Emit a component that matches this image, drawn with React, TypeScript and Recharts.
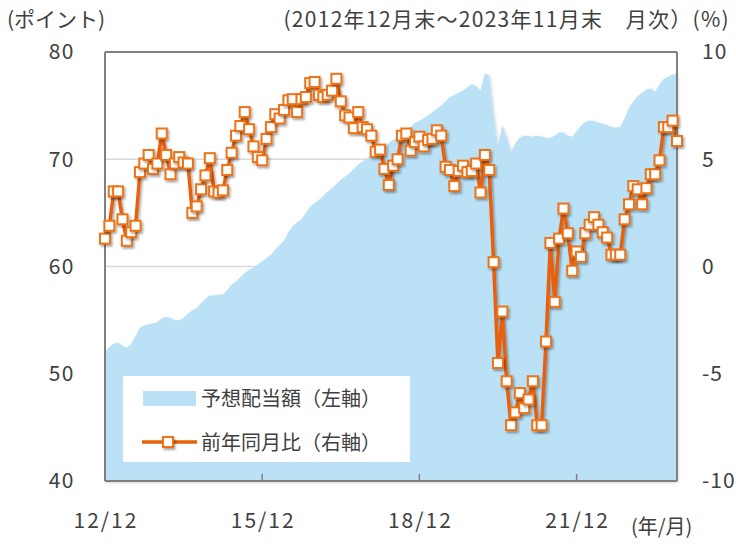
import React from "react";
import {
  ComposedChart,
  Area,
  Line,
  XAxis,
  YAxis,
  CartesianGrid,
  ReferenceLine
} from "recharts";

// 予想配当額 (ポイント, 左軸) 2012/12 - 2023/11
const dividendIndex = [
  52.0, 52.5, 52.8, 52.9, 52.6, 52.4, 52.8, 53.5, 54.3, 54.5, 54.6, 54.7,
  54.8, 55.2, 55.3, 55.2, 55.0, 55.0, 55.2, 55.6, 55.9, 56.1, 56.6, 57.0,
  57.3, 57.3, 57.4, 57.4, 57.8, 58.3, 58.6, 59.0, 59.4, 59.7, 59.9, 60.2,
  60.5, 60.8, 61.1, 61.6, 62.0, 62.4, 63.2, 63.8, 64.1, 64.4, 65.0, 65.6,
  65.9, 66.2, 66.6, 67.0, 67.3, 67.7, 68.1, 68.4, 68.7, 69.1, 69.5, 69.8,
  70.1, 70.4, 70.7, 70.9, 71.2, 71.5, 71.8, 72.1, 72.5, 72.7, 73.0, 73.4,
  73.6, 73.8, 74.1, 74.4, 74.7, 75.0, 75.4, 75.8, 76.0, 76.2, 76.4, 76.7,
  77.0, 76.8, 76.4, 78.0, 77.8, 74.0, 71.2, 73.2, 72.0, 70.7, 71.5, 72.0,
  72.2, 72.2, 72.1, 72.2, 72.1, 72.0, 72.0, 72.2, 72.5, 72.5, 72.2, 72.1,
  72.6, 73.1, 73.5, 73.6, 73.6, 73.4, 73.3, 73.2, 73.0, 72.95, 73.0, 73.8,
  74.8, 75.4, 75.9, 76.2, 76.5, 76.6, 76.3, 77.0, 77.5, 77.7, 77.9, 78.0
];

// 前年同月比 (%, 右軸)
const yoyChange = [
  1.3, 1.9, 3.5, 3.5, 2.2, 1.2, 1.6, 1.9, 4.4, 4.8, 5.2, 4.55,
  4.8, 6.2, 5.2, 4.3, 4.8, 5.1, 4.85, 4.8, 2.5, 2.8, 3.6, 4.25,
  5.05, 3.5, 3.45, 3.55, 4.5, 5.3, 6.1, 6.55, 7.2, 6.4, 5.6, 5.1,
  4.95, 5.95, 6.5, 7.1, 6.9, 7.3, 7.75, 7.8, 7.2, 7.8, 7.9, 8.55,
  8.6, 8.0, 7.9, 8.0, 8.2, 8.75, 7.7, 7.05, 6.95, 6.45, 7.2, 6.5,
  6.4, 6.1, 5.35, 5.45, 4.55, 3.8, 4.7, 5.0, 6.1, 6.2, 5.4, 5.8,
  6.05, 5.6, 5.9, 5.95, 6.35, 6.1, 4.65, 4.5, 3.75, 4.45, 4.7, 4.4,
  4.45, 4.8, 3.45, 5.2, 4.5, 0.2, -4.5, -2.1, -5.35, -7.4, -6.8, -5.9,
  -6.6, -6.2, -5.35, -7.4, -7.4, -3.5, 1.1, -1.65, 1.3, 2.7, 1.55, -0.2,
  0.7, 0.45, 1.55, 1.95, 2.3, 1.95, 1.6, 1.35, 0.55, 0.55, 0.55, 2.2,
  2.9, 3.75, 3.6, 2.9, 3.65, 4.3, 4.3, 4.95, 6.5, 6.5, 6.8, 5.85
];

const xTicks = ["12/12", "15/12", "18/12", "21/12"];
const leftTicks = [40, 50, 60, 70, 80];
const rightTicks = [-10, -5, 0, 5, 10];

// month labels yy/mm starting 2012/12
const months = dividendIndex.map((_, i) => {
  const n = 11 + i;
  const yy = 12 + Math.floor(n / 12);
  const mm = (n % 12) + 1;
  return `${yy}/${String(mm).padStart(2, "0")}`;
});

const data = months.map((month, i) => ({
  month,
  dividend: dividendIndex[i],
  yoy: yoyChange[i]
}));

const FONT = '"Noto Sans CJK JP", "Noto Sans", sans-serif';
const TEXT = "#404040";
const FRAME = "#808080";
const BLUE = "#bae1f6";
const ORANGE = "#e8600a";

const SquareDot = ({ cx, cy }: any) => (
  <rect
    x={cx - 5}
    y={cy - 5}
    width={10}
    height={10}
    fill="#fff"
    stroke="#ee7318"
    strokeWidth={2}
    filter="url(#shadow)"
  />
);

const XTick = ({ x, y, payload }: any) => (
  <g>
    <line x1={x} x2={x} y1={y - 7} y2={y} stroke={FRAME} strokeWidth={1.5} />
    <text
      x={x + 1}
      y={y + 47}
      textAnchor="middle"
      fill={TEXT}
      fontSize={21}
      letterSpacing={2}
      fontFamily={FONT}
    >
      {payload.value}
    </text>
  </g>
);

export default function App() {
  return (
    <div
      style={{
        position: "absolute",
        left: 0,
        top: 0,
        width: 736,
        height: 544,
        background: "#fff",
        fontFamily: FONT,
        color: TEXT
      }}
    >
      <ComposedChart
        width={736}
        height={544}
        data={data}
        margin={{ top: 52, right: 9, bottom: 33, left: 45 }}
      >
        <defs>
          <filter id="shadow" x="-50%" y="-50%" width="200%" height="200%">
            <feDropShadow dx="1.5" dy="2" stdDeviation="1.2" floodColor="#000" floodOpacity="0.35" />
          </filter>
          <filter id="areaShadow" x="-5%" y="-5%" width="110%" height="110%">
            <feDropShadow dx="1" dy="1.5" stdDeviation="1.5" floodColor="#000" floodOpacity="0.2" />
          </filter>
        </defs>
        <CartesianGrid yAxisId="left" vertical={false} stroke="#d9d9d9" strokeWidth={1.5} />
        <XAxis
          dataKey="month"
          ticks={xTicks}
          interval={0}
          height={30}
          tickSize={0}
          tickMargin={0}
          tickLine={false}
          axisLine={{ stroke: FRAME, strokeWidth: 2 }}
          tick={<XTick />}
        />
        <YAxis
          yAxisId="left"
          domain={[40, 80]}
          ticks={leftTicks}
          width={60}
          tickSize={0}
          tickMargin={30}
          tickLine={false}
          axisLine={{ stroke: FRAME, strokeWidth: 2 }}
          tick={{ fill: TEXT, fontSize: 21, fontFamily: FONT, letterSpacing: 1.5 }}
        />
        <YAxis
          yAxisId="right"
          orientation="right"
          domain={[-10, 10]}
          ticks={rightTicks}
          width={50}
          tickSize={0}
          tickMargin={25}
          tickLine={false}
          axisLine={{ stroke: FRAME, strokeWidth: 2 }}
          tick={{ fill: TEXT, fontSize: 21, fontFamily: FONT, textAnchor: "start", letterSpacing: 1 }}
        />
        <Area
          yAxisId="left"
          type="linear"
          dataKey="dividend"
          stroke="none"
          fill={BLUE}
          fillOpacity={1}
          filter="url(#areaShadow)"
          isAnimationActive={false}
        />
        <ReferenceLine yAxisId="left" y={80} stroke={FRAME} strokeWidth={2} />
        <Line
          yAxisId="right"
          type="linear"
          dataKey="yoy"
          stroke={ORANGE}
          strokeWidth={3.5}
          filter="url(#shadow)"
          dot={<SquareDot />}
          isAnimationActive={false}
        />
      </ComposedChart>

      <div style={{ position: "absolute", left: 7, top: 3, fontSize: 21 }}>(ポイント)</div>
      <div
        style={{
          position: "absolute",
          right: 6,
          top: 3,
          fontSize: 21,
          letterSpacing: 1.3,
          whiteSpace: "pre"
        }}
      >
        (2012年12月末～2023年11月末　月次）(%)
      </div>
      <div style={{ position: "absolute", left: 631, top: 512, fontSize: 20, lineHeight: "28px" }}>
        (年/月)
      </div>

      <div
        style={{
          position: "absolute",
          left: 123,
          top: 376,
          width: 287,
          height: 86,
          background: "#fff",
          fontSize: 20
        }}
      >
        <svg width={80} height={86} style={{ position: "absolute", left: 0, top: 0 }}>
          <defs>
            <filter id="lgShadow" x="-50%" y="-50%" width="200%" height="200%">
              <feDropShadow dx="1.5" dy="2" stdDeviation="1.2" floodColor="#000" floodOpacity="0.35" />
            </filter>
          </defs>
          <rect x={20} y={15} width={53} height={15} fill={BLUE} />
          <line x1={19} x2={74} y1={66} y2={66} stroke={ORANGE} strokeWidth={3.5} />
          <rect x={40} y={61} width={10} height={10} fill="#fff" stroke="#ee7318" strokeWidth={2} filter="url(#lgShadow)" />
        </svg>
        <div style={{ position: "absolute", left: 78, top: 7, lineHeight: "30px" }}>予想配当額（左軸）</div>
        <div style={{ position: "absolute", left: 78, top: 51, lineHeight: "30px" }}>前年同月比（右軸）</div>
      </div>
    </div>
  );
}
